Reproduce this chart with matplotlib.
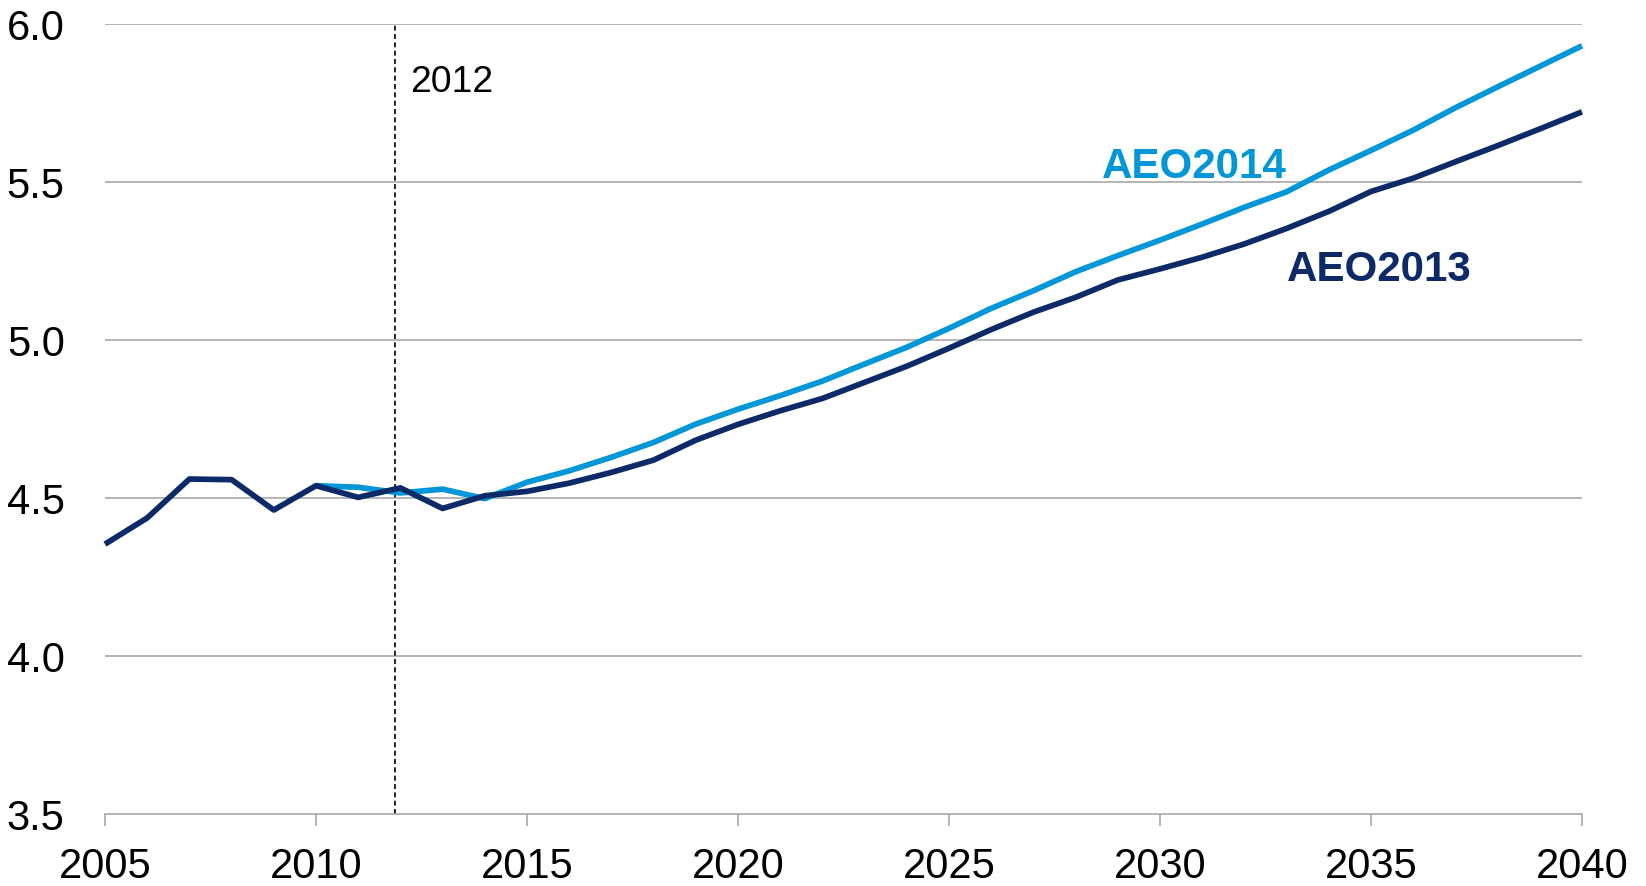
import matplotlib
matplotlib.use("Agg")
import matplotlib.pyplot as plt

years_2013 = list(range(2005, 2041))
aeo2013 = [4.354, 4.437, 4.560, 4.558, 4.462, 4.539, 4.502, 4.532, 4.467, 4.507,
           4.521, 4.547, 4.581, 4.620, 4.683, 4.733, 4.776, 4.815, 4.866, 4.917,
           4.974, 5.033, 5.088, 5.135, 5.190, 5.225, 5.262, 5.304, 5.353, 5.407,
           5.470, 5.512, 5.564, 5.615, 5.668, 5.722]

years_2014 = list(range(2010, 2041))
aeo2014 = [4.539, 4.534, 4.516, 4.528, 4.498, 4.550, 4.586, 4.629, 4.676, 4.734,
           4.781, 4.824, 4.870, 4.924, 4.977, 5.037, 5.100, 5.156, 5.216, 5.267,
           5.316, 5.367, 5.420, 5.469, 5.538, 5.600, 5.664, 5.735, 5.801, 5.866,
           5.931]

x_ticks = [2005, 2010, 2015, 2020, 2025, 2030, 2035, 2040]
y_ticks = [3.5, 4.0, 4.5, 5.0, 5.5, 6.0]
y_tick_labels = ["3.5", "4.0", "4.5", "5.0", "5.5", "6.0"]
marker_year = 2012
marker_label = "2012"

light = "#0096D7"
navy = "#0B2A67"
grid_c = "#A0A0A0"

plt.rcParams['font.family'] = ['Liberation Sans', 'DejaVu Sans']

fig = plt.figure(figsize=(16.46, 8.87), dpi=100)
ax = fig.add_axes([105/1646, 72/887, (1582-105)/1646, (815-25)/887])

for y in y_ticks[1:]:
    ax.axhline(y, color=grid_c, lw=1.1, zorder=1)

ax.axvline(marker_year - 0.13, color="black", lw=1.2, ls=(0, (3, 2)), zorder=2)
ax.text(marker_year + 0.24, 5.789, marker_label, fontsize=26.8, color="black",
        ha="left", va="baseline")

ax.plot(years_2014, aeo2014, color=light, lw=4.1, zorder=3, clip_on=False,
        solid_joinstyle="round", solid_capstyle="butt")
ax.plot(years_2013, aeo2013, color=navy, lw=4.1, zorder=4, clip_on=False,
        solid_joinstyle="round", solid_capstyle="butt")

ax.text(2028.63, 5.516, "AEO2014", fontsize=30.3, fontweight="bold", color=light,
        ha="left", va="baseline")
ax.text(2033.0, 5.19, "AEO2013", fontsize=30.3, fontweight="bold", color=navy,
        ha="left", va="baseline")

ax.set_xlim(2005, 2040)
ax.set_ylim(3.5, 6.0)
ax.set_xticks(x_ticks)
ax.set_xticklabels([str(v) for v in x_ticks])
ax.set_yticks(y_ticks)
ax.set_yticklabels(y_tick_labels)

for s in ["top", "right", "left"]:
    ax.spines[s].set_visible(False)
ax.spines["bottom"].set_color(grid_c)
ax.spines["bottom"].set_linewidth(1.1)

ax.tick_params(axis="x", direction="out", length=8.6, width=1.1, color=grid_c,
               labelsize=30, pad=14.5)
ax.tick_params(axis="y", length=0, labelsize=30, pad=29)

fig.savefig("out.png", dpi=100, facecolor="white")
